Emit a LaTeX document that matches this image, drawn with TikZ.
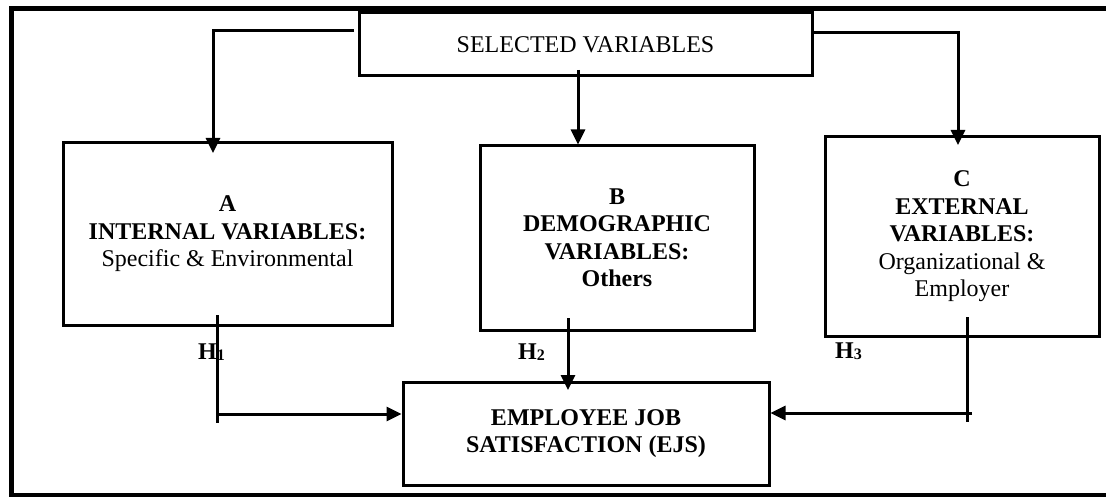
\documentclass[tikz,border=0pt]{standalone}
\usepackage{fontspec}
\setmainfont{Liberation Serif}
\usetikzlibrary{arrows.meta}
\newcommand{\hypsub}[1]{{\fontsize{16}{16}\selectfont\raisebox{-1.5pt}{#1}}}
\begin{document}
\begin{tikzpicture}[
    x=1pt, y=-1pt,
    every node/.style={align=center, font=\fontsize{24}{27.5}\selectfont},
    var box/.style={draw, line width=3pt, inner sep=0pt},
    link/.style={draw, line width=3pt},
    link arrow/.style={draw, line width=3pt, -{Triangle[length=15pt,width=14pt]}},
    hyp label/.style={anchor=base west, inner sep=0pt, font=\fontsize{24}{27.5}\selectfont\bfseries},
    ]
\useasboundingbox (0,0) rectangle (1106,497);
\draw[line width=5pt] (11,8.5) rectangle (1125,495.5);
\node[var box, minimum width=453pt, minimum height=63pt] (sel) at (585.5,44.5) {SELECTED VARIABLES};
\node[var box, minimum width=329pt, minimum height=183pt] (A) at (227.5,234) {\textbf{A}\\\textbf{INTERNAL VARIABLES:}\\Specific \& Environmental};
\node[var box, minimum width=274pt, minimum height=184pt] (B) at (617,238) {\textbf{B}\\\textbf{DEMOGRAPHIC}\\\textbf{VARIABLES:}\\\textbf{Others}};
\node[var box, minimum width=274pt, minimum height=199pt] (C) at (962,236.5) {\textbf{C}\\\textbf{EXTERNAL}\\\textbf{VARIABLES:}\\Organizational \&\\Employer};
\node[var box, minimum width=366pt, minimum height=103pt] (EJS) at (586,433.5) {\textbf{EMPLOYEE JOB}\\\textbf{SATISFACTION (EJS)}};
\coordinate (a1) at (354,31);
\coordinate (a2) at (213,153);
\draw[link arrow] (a1) -| (a2);
\coordinate (b1) at (578,70);
\draw[link arrow] (b1) -- (b1 |- B.north);
\coordinate (c1) at (958,33);
\coordinate (c2) at (958,145);
\draw[link arrow] (sel.east |- c1) -| (c2);
\coordinate (h1top) at (217,315);
\coordinate (h1mid) at (217,414);
\coordinate (h1bot) at (217,423);
\draw[link] (h1top) -- (h1bot);
\draw[link arrow] (h1mid) -- (h1mid -| EJS.west);
\coordinate (h2top) at (568,318);
\coordinate (h2tip) at (568,390);
\draw[link arrow] (h2top) -- (h2tip);
\coordinate (h3top) at (967,317);
\coordinate (h3mid) at (972,413);
\coordinate (h3bot) at (967,422);
\draw[link] (h3top) -- (h3bot);
\draw[link arrow] (h3mid) -- (h3mid -| EJS.east);
\node[hyp label] (H1) at (198,359) {H\hypsub{1}};
\node[hyp label] (H2) at (518,359) {H\hypsub{2}};
\node[hyp label] (H3) at (835,358) {H\hypsub{3}};
\end{tikzpicture}
\end{document}
